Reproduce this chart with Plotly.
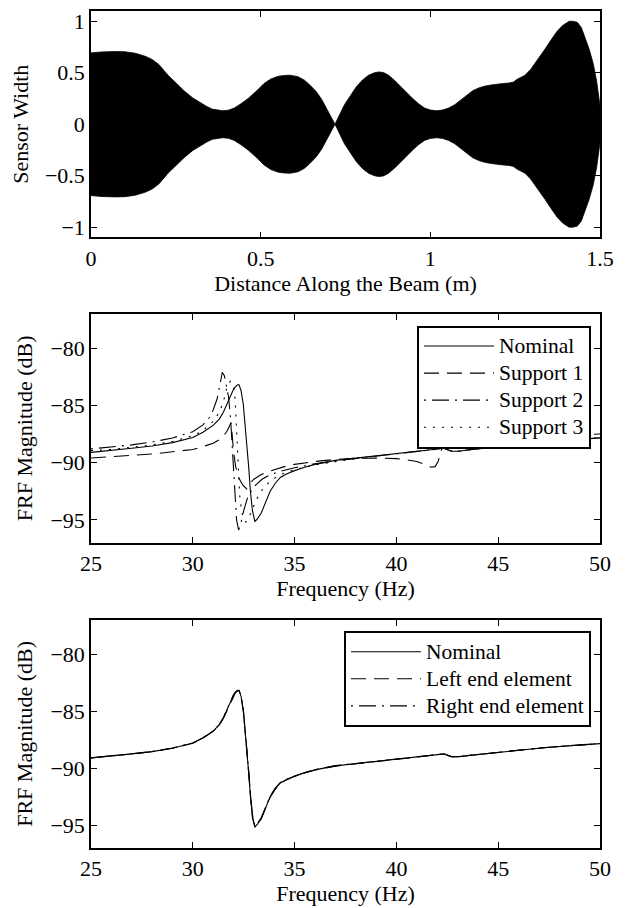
import plotly.graph_objects as go

# ---------------- data ----------------
# Panel 1: sensor width envelope (symmetric about 0)
dist_x = [0.0, 0.03, 0.07, 0.10, 0.13, 0.16, 0.18, 0.20, 0.227, 0.25, 0.274, 0.30, 0.32, 0.34, 0.357, 0.375,
          0.388, 0.405, 0.422, 0.44, 0.463, 0.49, 0.51, 0.53, 0.552, 0.57, 0.587, 0.61, 0.629, 0.647, 0.664,
          0.68, 0.694, 0.707, 0.719, 0.733, 0.747, 0.765, 0.782, 0.80, 0.818, 0.835, 0.848, 0.862, 0.877,
          0.895, 0.913, 0.93, 0.948, 0.965, 0.983, 1.0, 1.019, 1.036, 1.054, 1.072, 1.09, 1.108, 1.125,
          1.143, 1.16, 1.18, 1.196, 1.215, 1.232, 1.245, 1.255, 1.268, 1.279, 1.295, 1.308, 1.322, 1.338,
          1.355, 1.373, 1.39, 1.409, 1.42, 1.433, 1.445, 1.456, 1.468, 1.48, 1.49, 1.5]
sensor_w = [0.693, 0.702, 0.706, 0.704, 0.69, 0.66, 0.63, 0.58, 0.476, 0.40, 0.326, 0.255, 0.214, 0.175, 0.147, 0.135,
            0.131, 0.137, 0.157, 0.195, 0.25, 0.33, 0.396, 0.44, 0.466, 0.474, 0.476, 0.462, 0.428, 0.375, 0.316,
            0.24, 0.157, 0.085, 0.0, 0.095, 0.19, 0.28, 0.364, 0.43, 0.476, 0.50, 0.508, 0.502, 0.476,
            0.425, 0.364, 0.305, 0.25, 0.2, 0.157, 0.138, 0.131, 0.138, 0.157, 0.19, 0.236, 0.283, 0.326,
            0.353, 0.37, 0.382, 0.39, 0.396, 0.40, 0.41, 0.435, 0.455, 0.476, 0.53, 0.588, 0.66, 0.73,
            0.815, 0.90, 0.96, 1.0, 1.0, 0.99, 0.94, 0.84, 0.73, 0.59, 0.42, 0.18]

# Panel 2: FRF for support variations
f_nom = [25, 26, 27, 28, 29, 30, 30.5, 31, 31.3, 31.5, 31.7, 31.87, 32.0, 32.1, 32.2, 32.27, 32.37, 32.48,
         32.57, 32.66, 32.75, 32.83, 32.93, 33.05, 33.18, 33.36, 33.55, 33.8, 34.05, 34.3, 34.6, 35, 35.5,
         36, 37, 38, 39, 40, 41, 42, 42.35, 42.7, 43.06, 43.5, 44, 45, 46, 47, 48, 49, 50]
nominal = [-89.1, -88.95, -88.75, -88.55, -88.25, -87.8, -87.35, -86.75, -86.2, -85.6, -84.8, -84.1, -83.6,
           -83.35, -83.2, -83.2, -83.7, -84.9, -86.6, -88.4, -90.5, -92.5, -94.2, -95.15, -94.9, -94.4,
           -93.5, -92.5, -91.8, -91.3, -91.0, -90.7, -90.4, -90.15, -89.8, -89.6, -89.4, -89.2, -89.0,
           -88.8, -88.75, -89.0, -89.0, -88.9, -88.8, -88.6, -88.4, -88.25, -88.1, -87.95, -87.85]

f_s1 = [25, 26, 27, 28, 29, 30, 30.5, 31, 31.3, 31.5, 31.7, 31.82, 31.88, 31.93, 32.0, 32.1, 32.25, 32.45,
        32.65, 32.72, 32.8, 33.0, 33.3, 33.6, 34, 34.5, 35, 36, 37, 38, 39, 40, 40.5, 41, 41.4, 41.7, 41.9,
        42.05, 42.2, 42.3, 42.4, 42.6, 43, 44, 45, 46, 47, 48, 49, 50]
support1 = [-89.6, -89.5, -89.4, -89.25, -89.05, -88.85, -88.6, -88.3, -88.0, -87.7, -87.2, -86.7, -86.5,
            -87.5, -89.0, -90.3, -91.3, -91.95, -92.3, -92.2, -91.85, -91.45, -91.1, -90.85, -90.6, -90.35,
            -90.15, -89.9, -89.72, -89.62, -89.6, -89.65, -89.75, -89.9, -90.15, -90.4, -90.35, -89.9, -89.0,
            -88.2, -87.95, -87.95, -87.95, -87.85, -87.75, -87.7, -87.65, -87.6, -87.55, -87.5]

f_s2 = [25, 26, 27, 28, 29, 30, 30.5, 30.8, 31.0, 31.2, 31.35, 31.45, 31.55, 31.65, 31.75, 31.85, 31.95,
        32.05, 32.15, 32.25, 32.35, 32.5, 32.7, 33.0, 33.4, 33.8, 34.3, 35, 36, 37, 38, 39, 40, 41, 42,
        42.3, 42.7, 43.1, 44, 45, 46, 47, 48, 49, 50]
support2 = [-88.8, -88.65, -88.45, -88.2, -87.85, -87.3, -86.7, -86.1, -85.4, -84.4, -83.0, -82.1, -82.4,
            -83.2, -84.2, -86.0, -89.0, -92.5, -95.0, -95.9, -95.4, -94.2, -93.0, -92.1, -91.45, -91.05,
            -90.75, -90.45, -90.1, -89.85, -89.62, -89.42, -89.22, -89.02, -88.82, -88.75, -88.98, -88.98,
            -88.78, -88.58, -88.38, -88.22, -88.08, -87.93, -87.83]

f_s3 = [25, 26, 27, 28, 29, 30, 30.5, 31, 31.3, 31.5, 31.65, 31.75, 31.85, 32.0, 32.08, 32.15, 32.22, 32.3,
        32.4, 32.5, 32.6, 32.72, 32.9, 33.1, 33.4, 33.8, 34.3, 35, 36, 37, 38, 39, 40, 41, 42, 42.3, 42.7,
        43.1, 44, 45, 46, 47, 48, 49, 50]
support3 = [-88.95, -88.85, -88.65, -88.45, -88.15, -87.65, -87.2, -86.4, -85.6, -84.7, -83.6, -83.05, -82.9,
            -83.2, -84.5, -87.5, -90.5, -92.8, -94.3, -95.0, -95.2, -94.9, -94.2, -93.3, -92.4, -91.6,
            -91.05, -90.6, -90.2, -89.9, -89.65, -89.43, -89.22, -89.02, -88.82, -88.76, -88.98, -88.99,
            -88.79, -88.59, -88.39, -88.23, -88.08, -87.93, -87.83]

# Panel 3: FRF for end element variations
f_end = [25, 26, 27, 28, 29, 30, 30.5, 31, 31.3, 31.5, 31.7, 31.87, 32.0, 32.1, 32.2, 32.27, 32.37, 32.48,
         32.57, 32.66, 32.75, 32.83, 32.93, 33.05, 33.18, 33.36, 33.55, 33.8, 34.05, 34.3, 34.6, 35, 35.5,
         36, 37, 38, 39, 40, 41, 42, 42.35, 42.7, 43.06, 43.5, 44, 45, 46, 47, 48, 49, 50]
left_end = [-89.1, -88.95, -88.76, -88.56, -88.26, -87.82, -87.37, -86.78, -86.23, -85.65, -84.85, -84.15,
            -83.65, -83.38, -83.22, -83.22, -83.75, -85.0, -86.75, -88.6, -90.7, -92.7, -94.35, -95.2,
            -94.95, -94.45, -93.55, -92.55, -91.85, -91.35, -91.03, -90.72, -90.42, -90.17, -89.82, -89.61,
            -89.41, -89.21, -89.01, -88.81, -88.76, -89.0, -89.0, -88.9, -88.8, -88.6, -88.4, -88.25, -88.1,
            -87.95, -87.85]
right_end = [-89.1, -88.94, -88.74, -88.54, -88.24, -87.79, -87.34, -86.73, -86.18, -85.57, -84.76, -84.06,
             -83.56, -83.32, -83.18, -83.18, -83.65, -84.8, -86.45, -88.2, -90.3, -92.3, -94.05, -95.1,
             -94.85, -94.35, -93.45, -92.45, -91.75, -91.25, -90.97, -90.68, -90.38, -90.13, -89.78, -89.59,
             -89.39, -89.19, -88.99, -88.79, -88.74, -88.99, -88.99, -88.89, -88.79, -88.59, -88.39, -88.24,
             -88.09, -87.94, -87.84]

x1_ticks = [0, 0.5, 1, 1.5]
y1_ticks = [-1, -0.5, 0, 0.5, 1]
f_ticks = [25, 30, 35, 40, 45, 50]
db_ticks = [-95, -90, -85, -80]

names_mid = ["Nominal", "Support 1", "Support 2", "Support 3"]
names_bot = ["Nominal", "Left end element", "Right end element"]

# ---------------- figure ----------------
FONT = "Liberation Serif"
FS = 22
LFS = 18.5      # legend row spacing
LTXT = 21.5     # legend text size
OFF = 8  # page body margin of the browser
W, H = 630 - OFF, 908 - OFF
ML, MR, MT, MB = 83, 30, 1, 60
PH = H - MT - MB


def dom(top_page, bot_page):
    top_px = top_page - OFF
    bot_px = bot_page - OFF
    lo = max(0.0, (H - MB - bot_px) / PH)
    hi = min(1.0, (H - MB - top_px) / PH)
    return [lo, hi]


def lx(page_x):
    return (page_x - OFF - ML) / (W - ML - MR)


def ly(page_y):
    return (H - MB - (page_y - OFF)) / PH


def lname(s):
    return '<span style="font-size:%spx">%s</span>' % (LTXT, s)


fig = go.Figure()

# Panel 1 filled envelope
neg_w = [-v for v in sensor_w]
fig.add_trace(go.Scatter(x=dist_x, y=sensor_w, mode="lines", line=dict(color="black", width=0.8),
                         showlegend=False, xaxis="x", yaxis="y", hoverinfo="skip"))
fig.add_trace(go.Scatter(x=dist_x, y=neg_w, mode="lines", line=dict(color="black", width=0.8),
                         fill="tonexty", fillcolor="black", showlegend=False, xaxis="x", yaxis="y"))

DASH = "15px,8px"
DASHDOT = "2px,6px,17px,6px"
DOT = "2px,7px"
LW = 1.1

# Panel 2
mid_x = [f_nom, f_s1, f_s2, f_s3]
mid_y = [nominal, support1, support2, support3]
mid_dash = ["solid", DASH, DASHDOT, DOT]
for xs, ys, nm, ds in zip(mid_x, mid_y, names_mid, mid_dash):
    fig.add_trace(go.Scatter(x=xs, y=ys, mode="lines", name=lname(nm),
                             line=dict(color="black", width=LW, dash=ds), xaxis="x2", yaxis="y2", legend="legend"))

# Panel 3
bot_x = [f_nom, f_end, f_end]
bot_y = [nominal, left_end, right_end]
bot_dash = ["solid", DASH, DASHDOT]
for xs, ys, nm, ds in zip(bot_x, bot_y, names_bot, bot_dash):
    fig.add_trace(go.Scatter(x=xs, y=ys, mode="lines", name=lname(nm),
                             line=dict(color="black", width=LW, dash=ds), xaxis="x3", yaxis="y3", legend="legend2"))

axis_common = dict(showgrid=False, zeroline=False, showline=True, linecolor="black", linewidth=1.5,
                   mirror="ticks", ticks="inside", ticklen=6, tickwidth=1, tickcolor="black",
                   tickfont=dict(family=FONT, size=FS, color="black"))


def ax(**kw):
    d = dict(axis_common)
    d.update(kw)
    return d


def legend_style(right_page, top_page):
    return dict(x=lx(right_page), y=ly(top_page), xanchor="right", yanchor="top",
                bgcolor="white", bordercolor="black", borderwidth=2, itemwidth=70,
                traceorder="normal", font=dict(family=FONT, size=LFS, color="black"), tracegroupgap=0)


fig.update_layout(
    width=W, height=H,
    margin=dict(l=ML, r=MR, t=MT, b=MB),
    paper_bgcolor="white", plot_bgcolor="white",
    font=dict(family=FONT, size=FS, color="black"),
    xaxis=ax(domain=[0, 1], range=[0, 1.5], tickvals=x1_ticks, ticktext=["0", "0.5", "1", "1.5"],
             anchor="y", title=dict(text="Distance Along the Beam (m)", font=dict(family=FONT, size=FS), standoff=6)),
    yaxis=ax(domain=dom(7, 236), range=[-1.1, 1.1], tickvals=y1_ticks,
             ticktext=["\u22121", "\u22120.5", "0", "0.5", "1"], anchor="x",
             title=dict(text="Sensor Width", font=dict(family=FONT, size=FS), standoff=12)),
    xaxis2=ax(domain=[0, 1], range=[25, 50], tickvals=f_ticks, anchor="y2",
              title=dict(text="Frequency (Hz)", font=dict(family=FONT, size=FS), standoff=3)),
    yaxis2=ax(domain=dom(312.6, 542), range=[-97, -77], tickvals=db_ticks, anchor="x2",
              title=dict(text="FRF Magnitude (dB)", font=dict(family=FONT, size=FS), standoff=12)),
    xaxis3=ax(domain=[0, 1], range=[25, 50], tickvals=f_ticks, anchor="y3",
              title=dict(text="Frequency (Hz)", font=dict(family=FONT, size=FS), standoff=3)),
    yaxis3=ax(domain=dom(619.3, 848), range=[-97, -77], tickvals=db_ticks, anchor="x3",
              title=dict(text="FRF Magnitude (dB)", font=dict(family=FONT, size=FS), standoff=12)),
    legend=legend_style(591, 324.3),
    legend2=legend_style(591, 630.7),
)

fig.write_html("out.html")
